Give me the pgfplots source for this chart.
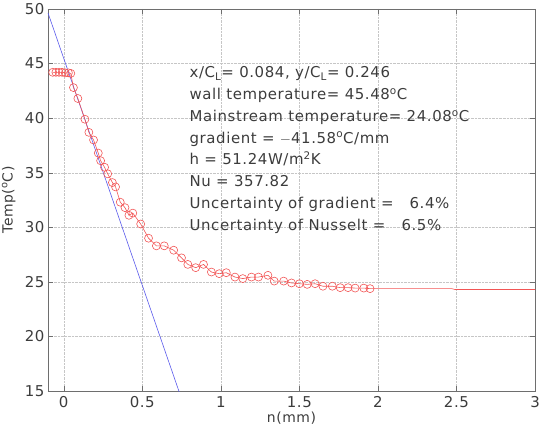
\documentclass[border=0pt]{standalone}
\usepackage{pgfplots}
\pgfplotsset{compat=1.18}
\usepackage{fontspec}
\setmainfont[LetterSpace=4]{DejaVu Sans}
\definecolor{axgray}{RGB}{110,110,110}
\definecolor{txtgray}{RGB}{60,60,60}
\definecolor{datred}{RGB}{242,85,85}
\definecolor{fitblue}{RGB}{90,90,235}
\begin{document}
\begin{tikzpicture}[x=1bp,y=1bp]
\begin{axis}[
  scale only axis, width=487bp, height=382bp,
  xmin=-0.1, xmax=3, ymin=15, ymax=50,
  xtick={0,0.5,1,1.5,2,2.5,3}, ytick={15,20,25,30,35,40,45,50},
  xticklabels={0,0.5,1,1.5,2,2.5,3},
  grid=major, major grid style={densely dotted, gray!45},
  tick align=inside, major tick length=5bp,
  tick style={axgray},
  axis line style={axgray, line width=0.8pt},
  /pgf/number format/assume math mode=true,
  ticklabel style={font=\fontsize{15}{15}\selectfont, text=txtgray},
  xticklabel style={yshift=-2bp},
  xlabel={n(mm)}, ylabel={Temp(\textsuperscript{o}C)},
  label style={font=\fontsize{14}{14}\selectfont, text=txtgray},
  xlabel style={at={(axis description cs:0.5,0)}, anchor=north, inner sep=1bp, yshift=-20bp},
  ylabel style={at={(axis description cs:0,0.5)}, anchor=south, yshift=29bp},
]
\addplot[fitblue, line width=0.6pt] coordinates {(-0.1,49.64) (0.76,13.88)};
\addplot[datred, line width=0.6pt, mark=o, mark size=4bp, mark options={line width=0.6pt}] coordinates {
(-0.07,44.2) (-0.05,44.2) (-0.03,44.2) (-0.01,44.2) (0.01,44.15) (0.03,44.15) (0.045,44.1)
(0.062,42.8) (0.09,41.8) (0.135,39.9) (0.16,38.7) (0.19,38.0) (0.22,36.8) (0.235,36.1)
(0.26,35.5) (0.28,34.9) (0.31,34.1) (0.33,33.7) (0.36,32.3) (0.39,31.8) (0.415,31.1)
(0.44,31.3) (0.49,30.3) (0.54,29.0) (0.59,28.3) (0.64,28.3) (0.70,27.9) (0.75,27.2)
(0.79,26.6) (0.84,26.3) (0.89,26.6) (0.94,25.9) (0.99,25.75) (1.035,25.84) (1.09,25.44)
(1.14,25.3) (1.195,25.44) (1.24,25.44) (1.30,25.6) (1.34,25.07) (1.40,25.07) (1.45,24.9)
(1.50,24.83) (1.55,24.77) (1.60,24.83) (1.65,24.6) (1.71,24.6) (1.76,24.47) (1.81,24.47)
(1.855,24.43) (1.91,24.43) (1.95,24.38)};
\addplot[datred, line width=0.6pt] coordinates {(1.95,24.38) (2.47,24.38) (2.49,24.3) (3,24.3)};
\node[anchor=north west, inner sep=0pt, align=left, text=txtgray,
  font=\fontsize{15}{21.9}\selectfont] at (axis cs:0.8,44.75) {%
x/C\textsubscript{L}= 0.084, y/C\textsubscript{L}= 0.246\\
wall temperature= 45.48\textsuperscript{o}C\\
Mainstream temperature= 24.08\textsuperscript{o}C\\
gradient = $-$41.58\textsuperscript{o}C/mm\\
h = 51.24W/m\textsuperscript{2}K\\
Nu = 357.82\\
Uncertainty of gradient =~~~6.4\%\\
Uncertainty of Nusselt =~~~6.5\%};
\end{axis}
\pgfresetboundingbox
\useasboundingbox (-48,-36) rectangle (497,391);
\end{tikzpicture}
\end{document}
